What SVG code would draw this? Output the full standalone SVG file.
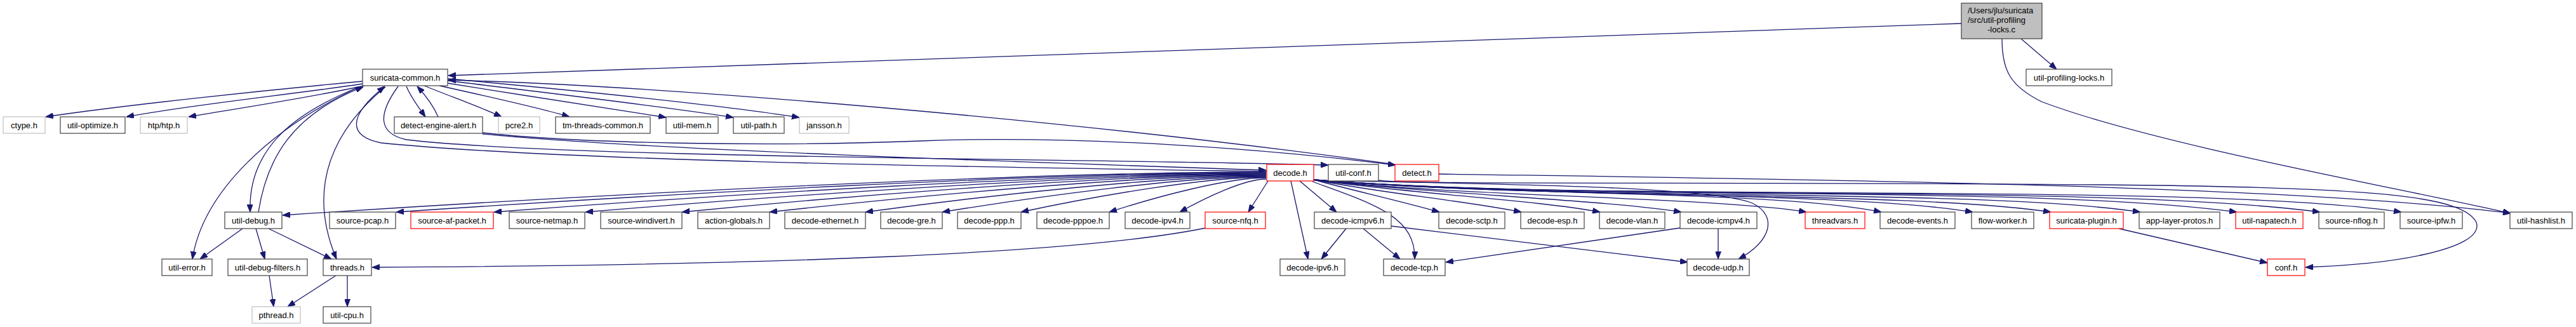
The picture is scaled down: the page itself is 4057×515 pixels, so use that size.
<svg xmlns="http://www.w3.org/2000/svg" width="4057" height="515" viewBox="0 0 4057 515">
<defs>
<marker id="a" viewBox="0 0 12 9" refX="12" refY="4.5" markerWidth="12" markerHeight="9" markerUnits="userSpaceOnUse" orient="auto"><path d="M0,0L12,4.5L0,9z" fill="#191970" stroke="#191970" stroke-width="1"/></marker>
<style>
rect{fill:#fff;stroke:#404040;stroke-width:1.2}
.g rect{stroke:#bfbfbf}
.r rect{stroke:#ff0000}
.root rect{fill:#bfbfbf;stroke:#404040}
text{font-family:"Liberation Sans",Arial,Helvetica,sans-serif;font-size:13px;fill:#000;text-anchor:middle}
#edges path{fill:none;stroke:#191970;stroke-width:1.3;marker-end:url(#a)}
</style>
</defs>
<rect width="4057" height="515" style="fill:#fff;stroke:none"/>
<g id="edges">
<path d="M3089,37 L706,119"/>
<path d="M3183,61 L3239,109"/>
<path d="M3153,61 C3153,110 3165,135 3215,160 C3400,230 3800,300 3954,336"/>
<path d="M571,128 C420,142 200,165 72,184"/>
<path d="M571,132 C450,150 300,165 199,184"/>
<path d="M574,135 C480,155 380,170 297,184"/>
<path d="M640,136 C648,155 660,170 670,184"/>
<path d="M690,184 C682,165 670,150 657,136"/>
<path d="M668,135 C710,152 760,170 790,184"/>
<path d="M692,135 C760,150 850,170 897,184"/>
<path d="M705,131 C820,150 960,170 1049,185"/>
<path d="M705,127 C850,145 1050,168 1155,185"/>
<path d="M705,124 C880,140 1130,165 1259,185"/>
<path d="M2197,259 C1700,190 1050,135 706,126"/>
<path d="M760,209 C900,225 1200,232 1450,222 C1700,212 2000,235 2198,260"/>
<path d="M760,211 C1000,235 1600,255 1994,268"/>
<path d="M1995,270 C1600,264 900,255 600,225 C550,215 545,185 606,136"/>
<path d="M627,136 C595,180 595,210 640,220 C900,250 1750,250 2092,260"/>
<path d="M568,136 C470,175 390,230 394,334"/>
<path d="M407,334 C420,250 460,180 572,137"/>
<path d="M566,137 C430,200 320,300 303,408"/>
<path d="M607,137 C530,200 480,290 530,408"/>
<path d="M382,360 L315,408"/>
<path d="M403,360 L417,408"/>
<path d="M423,360 L522,408"/>
<path d="M424,434 L431,483"/>
<path d="M529,434 L453,483"/>
<path d="M547,434 L547,483"/>
<path d="M1899,359 C1700,400 1200,418 586,421"/>
<path d="M1994,271 C1607,271 910,308 445,339"/>
<path d="M1994,272 C1652,272 1035,306 624,334"/>
<path d="M1994,273 C1690,273 1143,306 778,334"/>
<path d="M1994,274 C1726,274 1244,307 922,334"/>
<path d="M1994,275 C1764,275 1350,307 1074,334"/>
<path d="M1994,276 C1798,276 1447,308 1212,334"/>
<path d="M1994,277 C1836,277 1552,308 1363,334"/>
<path d="M1994,278 C1866,278 1637,309 1484,334"/>
<path d="M1994,279 C1897,279 1724,309 1608,334"/>
<path d="M1994,280 C1932,280 1821,310 1747,334"/>
<path d="M1994,282 C1960,282 1899,311 1858,334"/>
<path d="M1997,285 L1966,334"/>
<path d="M2033,285 L2060,408"/>
<path d="M2047,285 L2105,334"/>
<path d="M2067,286 C2160,320 2230,340 2228,408"/>
<path d="M2069,284 C2400,290 2700,295 2760,320 C2800,340 2790,380 2738,408"/>
<path d="M2120,360 L2081,408"/>
<path d="M2147,360 L2205,408"/>
<path d="M2191,356 L2658,413"/>
<path d="M2646,359 L2277,413"/>
<path d="M2706,360 L2706,408"/>
<path d="M2069,283 C2130,300 2200,315 2267,334"/>
<path d="M2069,283 C2180,305 2300,315 2396,334"/>
<path d="M2069,283 C2220,305 2420,315 2520,334"/>
<path d="M2069,283 C2250,305 2530,315 2648,334"/>
<path d="M2069,283 C2300,310 2700,310 2845,334"/>
<path d="M2069,283 C2400,310 2800,300 2963,334"/>
<path d="M2069,283 C2400,312 2900,300 3107,334"/>
<path d="M2069,283 C2450,315 3000,300 3230,334"/>
<path d="M2069,283 C2500,318 3100,295 3371,334"/>
<path d="M2069,283 C2500,318 3200,290 3523,334"/>
<path d="M2069,283 C2500,318 3300,288 3654,334"/>
<path d="M2069,283 C2500,320 3450,285 3782,334"/>
<path d="M3337,360 L3571,414"/>
<path d="M2171,284 C2220,292 2800,285 3400,292 C3750,297 3880,310 3900,350 C3915,395 3750,418 3631,421"/>
<path d="M2266,274 C2800,282 3600,290 3954,336"/>
</g>
<g id="root" class="root"><rect x="3089" y="5" width="127" height="56"/><text x="3099" y="21" style="text-anchor:start">/Users/jlu/suricata</text><text x="3099" y="36" style="text-anchor:start">/src/util-profiling</text><text x="3152" y="51">-locks.c</text></g>
<g id="suricata-common"><rect x="571" y="109" width="134" height="26"/><text x="638" y="126.5">suricata-common.h</text></g>
<g id="util-profiling-locks"><rect x="3191" y="109" width="135" height="26"/><text x="3258.5" y="126.5">util-profiling-locks.h</text></g>
<g id="ctype" class="g"><rect x="5" y="184" width="66" height="26"/><text x="38" y="201.5">ctype.h</text></g>
<g id="util-optimize"><rect x="95" y="184" width="102" height="26"/><text x="146" y="201.5">util-optimize.h</text></g>
<g id="htp" class="g"><rect x="221" y="184" width="74" height="26"/><text x="258" y="201.5">htp/htp.h</text></g>
<g id="detect-engine-alert"><rect x="621" y="184" width="139" height="26"/><text x="690.5" y="201.5">detect-engine-alert.h</text></g>
<g id="pcre2" class="g"><rect x="785" y="184" width="65" height="26"/><text x="817.5" y="201.5">pcre2.h</text></g>
<g id="tm-threads-common"><rect x="875" y="184" width="149" height="26"/><text x="949.5" y="201.5">tm-threads-common.h</text></g>
<g id="util-mem"><rect x="1049" y="184" width="82" height="26"/><text x="1090" y="201.5">util-mem.h</text></g>
<g id="util-path"><rect x="1155" y="184" width="80" height="26"/><text x="1195" y="201.5">util-path.h</text></g>
<g id="jansson" class="g"><rect x="1259" y="184" width="78" height="26"/><text x="1298" y="201.5">jansson.h</text></g>
<g id="decode" class="r"><rect x="1995" y="259" width="74" height="26"/><text x="2032" y="276.5">decode.h</text></g>
<g id="util-conf"><rect x="2092" y="259" width="79" height="26"/><text x="2131.5" y="276.5">util-conf.h</text></g>
<g id="detect" class="r"><rect x="2197" y="259" width="69" height="26"/><text x="2231.5" y="276.5">detect.h</text></g>
<g id="util-debug"><rect x="354" y="334" width="90" height="26"/><text x="399" y="351.5">util-debug.h</text></g>
<g id="source-pcap"><rect x="519" y="334" width="104" height="26"/><text x="571" y="351.5">source-pcap.h</text></g>
<g id="source-af-packet" class="r"><rect x="647" y="334" width="130" height="26"/><text x="712" y="351.5">source-af-packet.h</text></g>
<g id="source-netmap"><rect x="802" y="334" width="119" height="26"/><text x="861.5" y="351.5">source-netmap.h</text></g>
<g id="source-windivert"><rect x="946" y="334" width="128" height="26"/><text x="1010" y="351.5">source-windivert.h</text></g>
<g id="action-globals"><rect x="1099" y="334" width="113" height="26"/><text x="1155.5" y="351.5">action-globals.h</text></g>
<g id="decode-ethernet"><rect x="1236" y="334" width="127" height="26"/><text x="1299.5" y="351.5">decode-ethernet.h</text></g>
<g id="decode-gre"><rect x="1387" y="334" width="97" height="26"/><text x="1435.5" y="351.5">decode-gre.h</text></g>
<g id="decode-ppp"><rect x="1508" y="334" width="100" height="26"/><text x="1558" y="351.5">decode-ppp.h</text></g>
<g id="decode-pppoe"><rect x="1633" y="334" width="114" height="26"/><text x="1690" y="351.5">decode-pppoe.h</text></g>
<g id="decode-ipv4"><rect x="1772" y="334" width="102" height="26"/><text x="1823" y="351.5">decode-ipv4.h</text></g>
<g id="source-nfq" class="r"><rect x="1898" y="334" width="95" height="26"/><text x="1945.5" y="351.5">source-nfq.h</text></g>
<g id="decode-icmpv6"><rect x="2070" y="334" width="121" height="26"/><text x="2130.5" y="351.5">decode-icmpv6.h</text></g>
<g id="decode-sctp"><rect x="2266" y="334" width="104" height="26"/><text x="2318" y="351.5">decode-sctp.h</text></g>
<g id="decode-esp"><rect x="2395" y="334" width="100" height="26"/><text x="2445" y="351.5">decode-esp.h</text></g>
<g id="decode-vlan"><rect x="2519" y="334" width="103" height="26"/><text x="2570.5" y="351.5">decode-vlan.h</text></g>
<g id="decode-icmpv4"><rect x="2646" y="334" width="121" height="26"/><text x="2706.5" y="351.5">decode-icmpv4.h</text></g>
<g id="threadvars" class="r"><rect x="2843" y="334" width="94" height="26"/><text x="2890" y="351.5">threadvars.h</text></g>
<g id="decode-events"><rect x="2961" y="334" width="118" height="26"/><text x="3020" y="351.5">decode-events.h</text></g>
<g id="flow-worker"><rect x="3105" y="334" width="98" height="26"/><text x="3154" y="351.5">flow-worker.h</text></g>
<g id="suricata-plugin" class="r"><rect x="3228" y="334" width="116" height="26"/><text x="3286" y="351.5">suricata-plugin.h</text></g>
<g id="app-layer-protos"><rect x="3369" y="334" width="127" height="26"/><text x="3432.5" y="351.5">app-layer-protos.h</text></g>
<g id="util-napatech" class="r"><rect x="3521" y="334" width="106" height="26"/><text x="3574" y="351.5">util-napatech.h</text></g>
<g id="source-nflog"><rect x="3652" y="334" width="103" height="26"/><text x="3703.5" y="351.5">source-nflog.h</text></g>
<g id="source-ipfw"><rect x="3780" y="334" width="98" height="26"/><text x="3829" y="351.5">source-ipfw.h</text></g>
<g id="util-hashlist"><rect x="3953" y="334" width="98" height="26"/><text x="4002" y="351.5">util-hashlist.h</text></g>
<g id="util-error"><rect x="255" y="408" width="79" height="26"/><text x="294.5" y="425.5">util-error.h</text></g>
<g id="util-debug-filters"><rect x="359" y="408" width="125" height="26"/><text x="421.5" y="425.5">util-debug-filters.h</text></g>
<g id="threads"><rect x="509" y="408" width="76" height="26"/><text x="547" y="425.5">threads.h</text></g>
<g id="decode-ipv6"><rect x="2016" y="408" width="102" height="26"/><text x="2067" y="425.5">decode-ipv6.h</text></g>
<g id="decode-tcp"><rect x="2179" y="408" width="97" height="26"/><text x="2227.5" y="425.5">decode-tcp.h</text></g>
<g id="decode-udp"><rect x="2657" y="408" width="98" height="26"/><text x="2706" y="425.5">decode-udp.h</text></g>
<g id="conf" class="r"><rect x="3571" y="408" width="59" height="26"/><text x="3600.5" y="425.5">conf.h</text></g>
<g id="pthread" class="g"><rect x="397" y="483" width="76" height="26"/><text x="435" y="500.5">pthread.h</text></g>
<g id="util-cpu"><rect x="509" y="483" width="75" height="26"/><text x="546.5" y="500.5">util-cpu.h</text></g>
</svg>
